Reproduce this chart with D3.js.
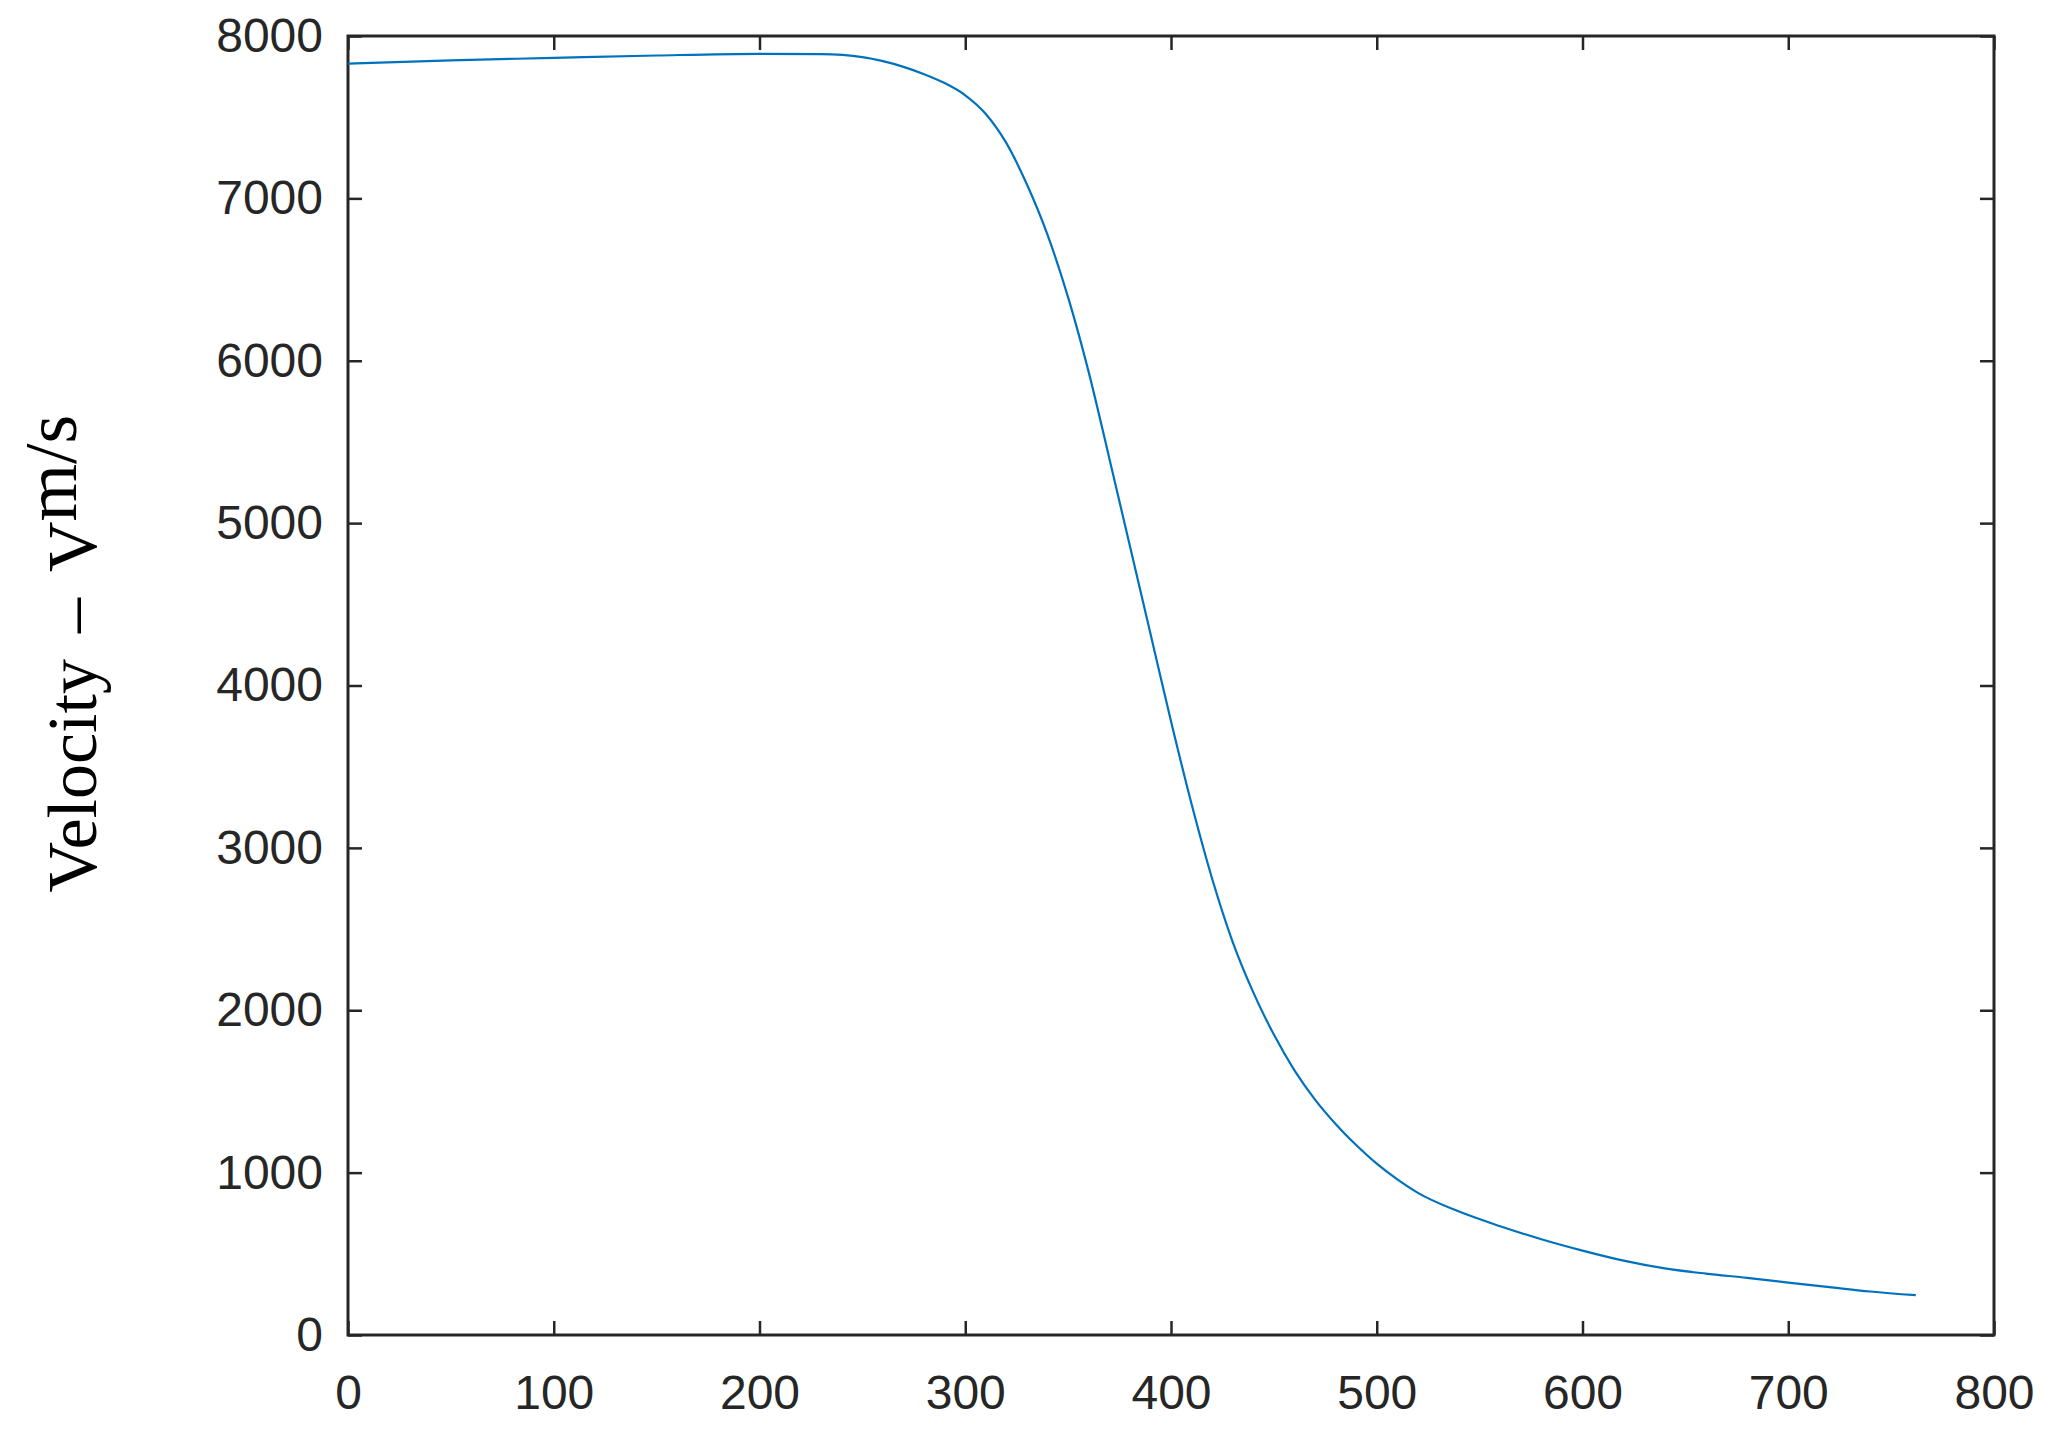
<!DOCTYPE html>
<html>
<head>
<meta charset="utf-8">
<script src="https://cdn.jsdelivr.net/npm/d3@7"></script>
<style>
  html, body { margin: 0; padding: 0; background: #ffffff; }
  svg { display: block; }
</style>
</head>
<body>
<svg id="chart" width="2068" height="1451"></svg>
<script>
// ---- data ----
const distance = [0, 50, 100, 150, 200, 230, 250, 260, 270, 280, 290, 300, 310, 320, 330, 340, 350, 360, 370, 380, 390, 400, 410, 420, 430, 440, 450, 460, 470, 480, 490, 500, 510, 520, 540, 560, 580, 600, 620, 640, 660, 680, 700, 720, 740, 762];
const velocity = [7830, 7850, 7865, 7880, 7890, 7888, 7870, 7845, 7810, 7765, 7710, 7635, 7520, 7340, 7085, 6775, 6390, 5930, 5400, 4860, 4320, 3780, 3270, 2810, 2420, 2110, 1850, 1630, 1450, 1300, 1170, 1055, 958, 875, 760, 670, 590, 520, 458, 410, 378, 352, 323, 295, 268, 245];
const xTicks = [0, 100, 200, 300, 400, 500, 600, 700, 800];
const yTicks = [0, 1000, 2000, 3000, 4000, 5000, 6000, 7000, 8000];
const xDomain = [0, 800];
const yDomain = [0, 8000];
const yLabelParts = ["Velocity", "\u2013", "V"];
const yLabelSup = "m/s";

// ---- layout ----
const margin = { left: 348, top: 36, right: 74, bottom: 116 };
const W = 2068, H = 1451;
const iw = W - margin.left - margin.right;
const ih = H - margin.top - margin.bottom;
const axisColor = "#262626";

const svg = d3.select("#chart");
const g = svg.append("g").attr("transform", `translate(${margin.left},${margin.top})`);

const x = d3.scaleLinear().domain(xDomain).range([0, iw]);
const y = d3.scaleLinear().domain(yDomain).range([ih, 0]);

const tickLen = 14;
const fontTick = "'Liberation Sans', Arial, Helvetica, sans-serif";

function styleAxis(sel, showText) {
  sel.select(".domain").remove();
  sel.selectAll(".tick line").attr("stroke", axisColor).attr("stroke-width", 2.5);
  sel.selectAll(".tick text")
    .attr("fill", showText ? axisColor : "none")
    .style("font-family", fontTick)
    .style("font-size", "48px");
}

// bottom axis
g.append("g").attr("transform", `translate(0,${ih})`)
  .call(d3.axisBottom(x).tickValues(xTicks).tickSizeInner(-tickLen).tickSizeOuter(0).tickPadding(40).tickFormat(d3.format("d")))
  .call(s => styleAxis(s, true));
// top axis (ticks only)
g.append("g")
  .call(d3.axisTop(x).tickValues(xTicks).tickSizeInner(-tickLen).tickSizeOuter(0).tickFormat(""))
  .call(s => styleAxis(s, false));
// left axis
g.append("g")
  .call(d3.axisLeft(y).tickValues(yTicks).tickSizeInner(-tickLen).tickSizeOuter(0).tickPadding(25).tickFormat(d3.format("d")))
  .call(s => styleAxis(s, true));
// right axis (ticks only)
g.append("g").attr("transform", `translate(${iw},0)`)
  .call(d3.axisRight(y).tickValues(yTicks).tickSizeInner(-tickLen).tickSizeOuter(0).tickFormat(""))
  .call(s => styleAxis(s, false));

// frame box
g.append("rect")
  .attr("x", 0).attr("y", 0).attr("width", iw).attr("height", ih)
  .attr("fill", "none").attr("stroke", axisColor).attr("stroke-width", 3);

// data line
const pts = distance.map((d, i) => [d, velocity[i]]);
g.append("path")
  .datum(pts)
  .attr("fill", "none")
  .attr("stroke", "#0072BD")
  .attr("stroke-width", 2.2)
  .attr("d", d3.line().x(d => x(d[0])).y(d => y(d[1])).curve(d3.curveMonotoneX));

// y-axis label (serif, rotated)
const yl = svg.append("text")
  .attr("transform", `translate(96,${margin.top + ih / 2 - 32}) rotate(-90)`)
  .attr("text-anchor", "middle")
  .attr("fill", "#000")
  .style("font-family", "'Liberation Serif', 'Times New Roman', serif")
  .style("font-size", "70px");
yl.append("tspan").text(yLabelParts[0]);
yl.append("tspan").attr("dx", 26).text(yLabelParts[1]);
yl.append("tspan").attr("dx", 26).text(yLabelParts[2]);
yl.append("tspan").attr("dy", -20).style("font-size", "74px").text(yLabelSup);
</script>
</body>
</html>
